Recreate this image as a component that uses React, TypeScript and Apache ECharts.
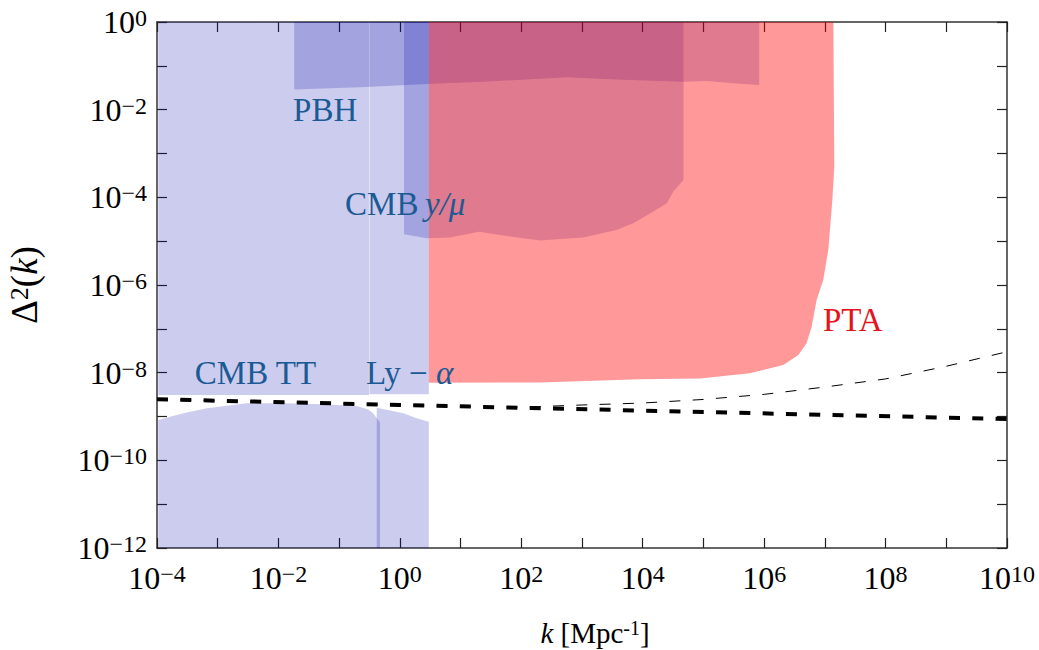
import React, { useEffect, useRef } from "react";
import * as echarts from "echarts";

// Axis extents, in decades
const K_EXP_MIN = -4;
const K_EXP_MAX = 10;
const P_EXP_MIN = -12;
const P_EXP_MAX = 0;

// Excluded regions: closed outlines of [k (Mpc^-1), Δ²(k)] vertices
const CMB_TT_HIGH: number[][] = [
  [1.05e-4, 1], [0.31, 1], [0.31, 3.1e-9], [1.05e-4, 3.1e-9],
];
const CMB_TT_LOW: number[][] = [
  [1.05e-4, 1e-12], [1.05e-4, 8.3e-10], [2.7e-4, 1.18e-9], [6.6e-4, 1.54e-9],
  [3.0e-3, 2.0e-9], [1.2e-2, 2.0e-9], [5.5e-2, 1.9e-9], [0.195, 1.73e-9],
  [0.30, 1.45e-9], [0.36, 1.2e-9], [0.42, 9.0e-10], [0.47, 7.5e-10], [0.47, 1e-12],
];
const LYA_HIGH: number[][] = [
  [0.315, 1], [3, 1], [3, 3.2e-9], [0.315, 3.2e-9],
];
const LYA_LOW: number[][] = [
  [0.416, 1e-12], [0.416, 1.59e-9], [1.14, 1.18e-9], [1.89, 9.1e-10], [3, 7.6e-10], [3, 1e-12],
];
const PBH: number[][] = [
  [0.0182, 1], [8.3e5, 1], [8.3e5, 0.0365], [3.1e5, 0.04], [1.13e5, 0.045],
  [4.7e4, 0.0435], [3.7e3, 0.049], [560, 0.0547], [23.7, 0.0435], [2.77, 0.0385],
  [0.284, 0.033], [0.0182, 0.029],
];
const CMB_Y_MU: number[][] = [
  [1.17, 1], [4.7e4, 1], [4.7e4, 2.5e-4], [3.2e4, 1.35e-4], [2.5e4, 7.3e-5],
  [1.32e4, 4.3e-5], [7.0e3, 2.55e-5], [3.7e3, 1.8e-5], [1.05e3, 1.22e-5],
  [203, 1.03e-5], [44.6, 1.38e-5], [20.1, 1.64e-5], [6.7, 1.22e-5],
  [2.77, 1.16e-5], [1.17, 1.43e-5],
];
const PTA: number[][] = [
  [3, 1], [1.38e7, 1], [1.43e7, 5.0e-4], [1.33e7, 8.7e-5], [1.14e7, 6.3e-6],
  [9.4e6, 1.3e-6], [7.3e6, 4.5e-7], [6.07e6, 1.12e-7], [5.0e6, 4.7e-8],
  [3.66e6, 2.53e-8], [2.07e6, 1.5e-8], [5.8e5, 9.7e-9], [8.8e4, 7.4e-9],
  [9.0e3, 7.1e-9], [203, 6.0e-9], [3, 5.9e-9],
];

// Power-law primordial spectrum (thick dashes) and its running extension (thin dashes)
const POWER_LAW_K = [1e-4, 1, 1e10];
const POWER_LAW_P = [2.47e-9, 1.834e-9, 8.75e-10];
const RUNNING_K = [1e-4, 1, 10, 100, 1e3, 1e4, 1e5, 1e6, 1e7, 1e8, 1e9, 1e10];
const RUNNING_P = [2.47e-9, 1.834e-9, 1.7e-9, 1.63e-9, 1.83e-9, 2.03e-9, 2.45e-9, 3.2e-9, 4.7e-9, 7.2e-9, 1.4e-8, 3.0e-8];

// Region labels: left edge and vertical centre, in data units
const LABEL_TEXT = ["PBH", "CMB\u2009{i|y/μ}", "CMB TT", "Ly − {i|α}", "PTA"];
const LABEL_K = [0.0174, 0.125, 4.2e-4, 0.277, 9.3e6];
const LABEL_P = [9.9e-3, 7.0e-5, 1.0e-8, 1.0e-8, 1.6e-7];
const LABEL_COLOR = ["#1b5a94", "#1b5a94", "#1b5a94", "#1b5a94", "#e3141b"];

const SERIF = "'Liberation Serif', 'Times New Roman', serif";
const BLUE_FILL = "rgba(0, 0, 170, 0.2)";
const RED_FILL = "rgba(255, 0, 0, 0.4)";

const toLog = (pts: number[][]) => pts.map(([k, p]) => [Math.log10(k), Math.log10(p)]);

function regionSeries(name: string, pts: number[][], fill: string) {
  const data = toLog(pts);
  return {
    type: "custom",
    name,
    coordinateSystem: "cartesian2d",
    xAxisIndex: 0,
    yAxisIndex: 0,
    silent: true,
    data,
    renderItem: (params: any, api: any) => {
      if (params.dataIndex !== 0) return null;
      return {
        type: "polygon",
        shape: { points: data.map((d) => api.coord(d)) },
        style: { fill, stroke: "none" },
      };
    },
  };
}

function expLabel(v: number) {
  const e = Math.round(v);
  if (e % 2 !== 0) return "";
  const sup = e < 0 ? "−" + Math.abs(e) : String(e);
  return "{b|10}{s|" + sup + "}";
}

const tickRich = {
  b: { fontFamily: SERIF, fontSize: 32, lineHeight: 32, color: "#000" },
  s: { fontFamily: SERIF, fontSize: 24, lineHeight: 6, verticalAlign: "top", color: "#000" },
};

const axisBase = {
  type: "value",
  splitLine: { show: false },
  axisLine: { show: true, onZero: false, lineStyle: { color: "#333", width: 1.5 } },
  axisTick: { show: true, inside: true, length: 10, lineStyle: { color: "#222", width: 1.2 } },
};

export default function App() {
  const ref = useRef<HTMLDivElement>(null);

  useEffect(() => {
    if (!ref.current) return;
    const chart = echarts.init(ref.current, undefined, { renderer: "svg" });

    const labelData = LABEL_K.map((k, i) => [Math.log10(k), Math.log10(LABEL_P[i])]);

    chart.setOption({
      animation: false,
      backgroundColor: "#fff",
      grid: { left: 157, right: 32, top: 22, bottom: 102, containLabel: false, outerBoundsMode: "none" },
      xAxis: [
        {
          ...axisBase,
          gridIndex: 0,
          position: "bottom",
          min: K_EXP_MIN,
          max: K_EXP_MAX,
          interval: 1,
          axisLabel: { margin: 14, formatter: expLabel, rich: tickRich },
          name: "{i|k} [Mpc{s|-1}]",
          nameLocation: "middle",
          nameGap: 70,
          nameTextStyle: {
            fontFamily: SERIF,
            fontSize: 29,
            lineHeight: 29,
            color: "#000",
            padding: [0, 0, 0, 26],
            rich: {
              i: { fontFamily: SERIF, fontSize: 29, lineHeight: 29, fontStyle: "italic", color: "#000" },
              s: { fontFamily: SERIF, fontSize: 20, lineHeight: 4, verticalAlign: "top", color: "#000" },
            },
          },
        },
        {
          ...axisBase,
          gridIndex: 0,
          position: "top",
          min: K_EXP_MIN,
          max: K_EXP_MAX,
          interval: 1,
          axisLabel: { show: false },
        },
      ],
      yAxis: [
        {
          ...axisBase,
          gridIndex: 0,
          position: "left",
          min: P_EXP_MIN,
          max: P_EXP_MAX,
          interval: 1,
          axisLabel: { margin: 10, formatter: expLabel, rich: tickRich },
          name: "Δ{s|2}({i|k})",
          nameLocation: "middle",
          nameGap: 114,
          nameTextStyle: {
            fontFamily: SERIF,
            fontSize: 37,
            lineHeight: 37,
            color: "#000",
            rich: {
              i: { fontFamily: SERIF, fontSize: 37, lineHeight: 37, fontStyle: "italic", color: "#000" },
              s: { fontFamily: SERIF, fontSize: 26, lineHeight: 6, verticalAlign: "top", color: "#000" },
            },
          },
        },
        {
          ...axisBase,
          gridIndex: 0,
          position: "right",
          min: P_EXP_MIN,
          max: P_EXP_MAX,
          interval: 1,
          axisLabel: { show: false },
        },
      ],
      series: [
        regionSeries("CMB TT high", CMB_TT_HIGH, BLUE_FILL),
        regionSeries("CMB TT low", CMB_TT_LOW, BLUE_FILL),
        regionSeries("Ly-alpha high", LYA_HIGH, BLUE_FILL),
        regionSeries("Ly-alpha low", LYA_LOW, BLUE_FILL),
        regionSeries("PBH", PBH, BLUE_FILL),
        regionSeries("CMB y/mu", CMB_Y_MU, BLUE_FILL),
        regionSeries("PTA", PTA, RED_FILL),
        {
          type: "line",
          name: "running",
          data: RUNNING_K.map((k, i) => [Math.log10(k), Math.log10(RUNNING_P[i])]),
          showSymbol: false,
          symbol: "none",
          silent: true,
          lineStyle: { color: "#000", width: 1, type: [11, 12.3] },
        },
        {
          type: "line",
          name: "power law",
          data: POWER_LAW_K.map((k, i) => [Math.log10(k), Math.log10(POWER_LAW_P[i])]),
          showSymbol: false,
          symbol: "none",
          silent: true,
          clip: false,
          lineStyle: { color: "#000", width: 4, type: [11, 12.3] },
        },
        {
          type: "custom",
          name: "labels",
          coordinateSystem: "cartesian2d",
          silent: true,
          data: labelData,
          renderItem: (params: any, api: any) => {
            const p = api.coord([api.value(0), api.value(1)]);
            const color = LABEL_COLOR[params.dataIndex];
            return {
              type: "text",
              x: p[0],
              y: p[1],
              style: {
                text: LABEL_TEXT[params.dataIndex],
                fill: color,
                fontFamily: SERIF,
                fontSize: 33,
                align: "left",
                verticalAlign: "middle",
                rich: {
                  i: { fontFamily: SERIF, fontSize: 33, fontStyle: "italic", fill: color, color },
                },
              },
            };
          },
        },
      ],
    });

    return () => chart.dispose();
  }, []);

  return (
    <div
      ref={ref}
      style={{ position: "fixed", left: 0, top: 0, width: 1039, height: 650, background: "#fff" }}
    />
  );
}
